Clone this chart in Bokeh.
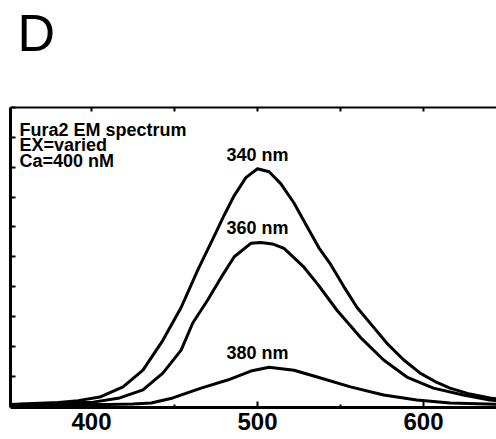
from bokeh.plotting import figure
from bokeh.models import FixedTicker, Label, Range1d, Span
from bokeh.embed import file_html
from bokeh.resources import INLINE

# ---- data ----
wl_340 = [352, 365, 380, 392, 405, 419, 431, 443, 454, 464, 474, 480, 486, 493, 500, 507, 514, 522, 530, 537, 544, 552, 560, 569, 578, 588, 598, 607, 616, 628, 640, 645]
em_340 = [0.5, 0.8, 1.2, 1.8, 3.0, 6.4, 12.0, 22.0, 33.0, 45.5, 57.0, 64.0, 70.5, 76.5, 79.5, 78.5, 74.5, 68.0, 60.0, 53.0, 47.5, 40.0, 33.0, 27.0, 21.0, 15.5, 11.0, 8.2, 6.0, 4.0, 2.7, 2.3]

wl_360 = [352, 370, 385, 401, 417, 431, 443, 454, 461, 470, 478, 486, 496, 502, 509, 516, 528, 536, 548, 562, 576, 590, 606, 624, 640, 645]
em_360 = [0.5, 0.7, 1.0, 1.3, 2.7, 5.4, 11.0, 18.7, 27.8, 35.5, 43.0, 50.0, 54.5, 54.8, 54.3, 52.8, 46.5, 41.0, 32.0, 23.0, 15.4, 9.7, 6.0, 3.7, 2.0, 1.8]

wl_380 = [352, 380, 410, 425, 436, 449, 466, 482, 496, 507, 522, 536, 556, 576, 596, 616, 645]
em_380 = [0.2, 0.4, 0.5, 0.7, 1.0, 2.7, 6.0, 8.7, 11.7, 13.0, 12.0, 9.7, 6.4, 3.7, 2.0, 1.0, 0.6]

series_names = ["340 nm", "360 nm", "380 nm"]
x_ticks = [400, 500, 600]
x_minor = [350, 450, 550, 650]
top_ticks = [350, 400, 450, 500, 550, 600, 650]
y_ticks = [0, 10, 20, 30, 40, 50, 60, 70, 80, 90, 100]
y_top = 100
panel_letter = "D"
info_lines = ["Fura2 EM spectrum", "EX=varied", "Ca=400 nM"]
label_wl = 500

FONT = "Liberation Sans Narrow, Liberation Sans, Arial, sans-serif"
FONT_REG = "Liberation Sans, Arial, sans-serif"

# frame spans the full height above the bottom axis; data box top (y=100) sits ~107 px from top
px_per_unit = (407 - 107) / 100.5
y_end = -0.5 + 407 / px_per_unit

p = figure(width=496, height=439, output_backend="svg", toolbar_location=None,
           x_range=Range1d(351.2, 644), y_range=Range1d(-0.5, y_end),
           min_border_left=10, min_border_right=0, min_border_top=0, min_border_bottom=32,
           x_axis_location="below", y_axis_location="left")
p.outline_line_color = None
p.grid.visible = False
p.background_fill_color = "white"
p.border_fill_color = "white"

# bottom axis
xa = p.xaxis[0]
xa.ticker = FixedTicker(ticks=x_ticks, minor_ticks=x_minor)
xa.axis_line_width = 3
xa.axis_line_color = "black"
xa.major_tick_in = 6
xa.major_tick_out = 0
xa.major_tick_line_width = 2
xa.minor_tick_in = 3
xa.minor_tick_out = 0
xa.minor_tick_line_width = 2
xa.major_label_text_font = FONT
xa.major_label_text_font_style = "bold"
xa.major_label_text_font_size = "24px"
xa.major_label_text_color = "black"
xa.major_label_standoff = 5

# left axis, limited to the data box
ya = p.yaxis[0]
ya.ticker = FixedTicker(ticks=y_ticks, minor_ticks=[])
ya.bounds = (-0.5, y_top)
ya.axis_line_width = 3
ya.major_tick_in = 5
ya.major_tick_out = 0
ya.major_tick_line_width = 2
ya.major_label_overrides = {t: "" for t in y_ticks}
ya.major_label_standoff = 0

# top border line of the data box with small inward ticks
p.add_layout(Span(location=y_top, dimension="width", line_color="black", line_width=2))
p.segment(x0=top_ticks, y0=[y_top] * len(top_ticks), x1=top_ticks,
          y1=[y_top - 1.3] * len(top_ticks), line_color="black", line_width=2)

for wl, em in [(wl_340, em_340), (wl_360, em_360), (wl_380, em_380)]:
    p.line(wl, em, line_color="black", line_width=3, line_join="round")

for name, em in zip(series_names, [em_340, em_360, em_380]):
    p.add_layout(Label(x=label_wl, y=max(em), text=name, x_units="data", y_units="data",
                       y_offset=14, text_align="center", text_baseline="alphabetic",
                       text_font=FONT_REG, text_font_style="bold", text_font_size="18px",
                       text_color="black"))

for i, line in enumerate(info_lines):
    p.add_layout(Label(x=9, y=278 - 15.5 * i, x_units="screen", y_units="screen", text=line,
                       text_align="left", text_baseline="alphabetic",
                       text_font=FONT_REG, text_font_style="bold", text_font_size="18px",
                       text_color="black"))

p.add_layout(Label(x=7, y=375, x_units="screen", y_units="screen", text=panel_letter,
                   text_align="left", text_baseline="alphabetic",
                   text_font=FONT_REG, text_font_size="52px", text_color="black"))

open("out.html", "w").write(file_html(p, INLINE))
